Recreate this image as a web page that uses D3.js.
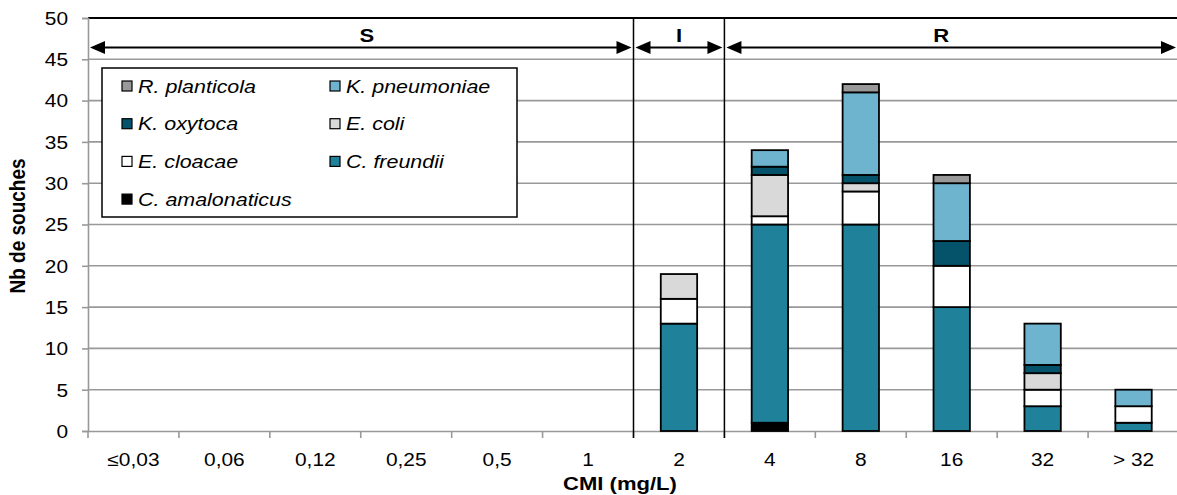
<!DOCTYPE html>
<html><head><meta charset="utf-8">
<script src="https://cdn.jsdelivr.net/npm/d3@7"></script>
<style>
html,body{margin:0;padding:0;background:#fff;}
svg{display:block;font-family:"Liberation Sans",Arial,Helvetica,sans-serif;}
</style></head>
<body>
<svg id="chart" width="1177" height="495"></svg>
<script>
const categories = ["≤0,03","0,06","0,12","0,25","0,5","1","2","4","8","16","32","> 32"];
const species = ["C. amalonaticus","C. freundii","E. cloacae","E. coli","K. oxytoca","K. pneumoniae","R. planticola"];
const amalonaticus = [0,0,0,0,0,0,0,1,0,0,0,0];
const freundii     = [0,0,0,0,0,0,13,24,25,15,3,1];
const cloacae      = [0,0,0,0,0,0,3,1,4,5,2,2];
const coli         = [0,0,0,0,0,0,3,5,1,0,2,0];
const oxytoca      = [0,0,0,0,0,0,0,1,1,3,1,0];
const pneumoniae   = [0,0,0,0,0,0,0,2,10,7,5,2];
const planticola   = [0,0,0,0,0,0,0,0,1,1,0,0];
const seriesValues = [amalonaticus,freundii,cloacae,coli,oxytoca,pneumoniae,planticola];
const colors = ["#000000","#1f819a","#ffffff","#d9d9d9","#04536a","#6eb4cf","#999999"];
const yTicks = [0,5,10,15,20,25,30,35,40,45,50];
const zones = [{label:"S",from:0,to:6},{label:"I",from:6,to:7},{label:"R",from:7,to:12}];
const legendOrder = ["R. planticola","K. pneumoniae","K. oxytoca","E. coli","E. cloacae","C. freundii","C. amalonaticus"];

const SX = 1.16; // horizontal stretch of the reference's text
const svg = d3.select("#chart");
const L=88, R=1179, T=18, B=431;
const x = d3.scaleBand().domain(categories).range([L,R]).paddingInner(0.6).paddingOuter(0.3);
const xOuter = d3.scaleBand().domain(categories).range([L,R]);
const y = d3.scaleLinear().domain([0,50]).range([B,T]);

function stext(g, px, py, str, size, opts={}){
  const t = g.append("text").attr("transform",`translate(${px},${py}) scale(${SX},1)`)
    .attr("font-size",size).attr("text-anchor",opts.anchor||"start").text(str);
  if(opts.bold) t.attr("font-weight","bold");
  if(opts.italic) t.attr("font-style","italic");
  return t;
}

// gridlines
svg.append("g").selectAll("line").data(yTicks.filter(d=>d>0 && d<50)).join("line")
  .attr("x1",L).attr("x2",1177).attr("y1",d=>y(d)).attr("y2",d=>y(d))
  .attr("stroke","#999").attr("stroke-width",1.6);
// top border
svg.append("line").attr("x1",L).attr("x2",1177).attr("y1",y(50)).attr("y2",y(50))
  .attr("stroke","#000").attr("stroke-width",1.8);

// y axis
const yAxis = svg.append("g").attr("transform",`translate(${L},0)`)
  .call(d3.axisLeft(y).tickValues(yTicks).tickSize(6).tickPadding(10));
yAxis.select(".domain").attr("stroke","#999").attr("stroke-width",1.6);
yAxis.selectAll(".tick line").attr("stroke","#999").attr("stroke-width",1.6);
yAxis.selectAll(".tick text").attr("font-size",18).attr("fill","#000")
  .attr("font-family","'Liberation Sans',Arial,sans-serif")
  .attr("x",-20/SX).attr("dy","0.35em").attr("transform",`scale(${SX},1)`);

// x axis
const xAxis = svg.append("g").attr("transform",`translate(0,${B})`)
  .call(d3.axisBottom(xOuter).tickSize(0).tickPadding(0));
xAxis.select(".domain").attr("stroke","#999").attr("stroke-width",1.6);
xAxis.selectAll(".tick text").attr("font-size",18).attr("fill","#000")
  .attr("font-family","'Liberation Sans',Arial,sans-serif")
  .attr("y",35).attr("dy",0).attr("transform",`scale(${SX},1)`);
svg.append("g").selectAll("line").data(d3.range(categories.length+1)).join("line")
  .attr("x1",i=>L+i*xOuter.step()).attr("x2",i=>L+i*xOuter.step())
  .attr("y1",B).attr("y2",B+7).attr("stroke","#999").attr("stroke-width",1.6);

// stacked bars
const table = categories.map((c,i)=>{const o={cat:c}; species.forEach((s,j)=>o[s]=seriesValues[j][i]); return o;});
const stack = d3.stack().keys(species)(table);
stack.forEach((layer,j)=>{
  svg.append("g").selectAll("rect").data(layer.filter(d=>d[1]-d[0]>0)).join("rect")
    .attr("x",d=>x(d.data.cat)).attr("width",x.bandwidth())
    .attr("y",d=>y(d[1])).attr("height",d=>y(d[0])-y(d[1]))
    .attr("fill",colors[j]).attr("stroke","#000").attr("stroke-width",1.8);
});

// zone dividers
svg.append("g").selectAll("line").data([6,7]).join("line")
  .attr("x1",i=>L+i*xOuter.step()).attr("x2",i=>L+i*xOuter.step())
  .attr("y1",T).attr("y2",B+7).attr("stroke","#000").attr("stroke-width",1.5);

// arrows
const ay = 47.5;
const labelShift = [6,0,-10];
function head(g,xTip,dir){
  g.append("path").attr("d",`M${xTip},${ay} L${xTip-dir*15},${ay-6.5} L${xTip-dir*15},${ay+6.5} Z`).attr("fill","#000");
}
zones.forEach((z,k)=>{
  const x0 = L+z.from*xOuter.step()+2, x1 = Math.min(L+z.to*xOuter.step()-2,1176);
  const g = svg.append("g");
  g.append("line").attr("x1",x0+5).attr("x2",x1-5).attr("y1",ay).attr("y2",ay).attr("stroke","#000").attr("stroke-width",1.8);
  head(g,x0,-1); head(g,x1,1);
  stext(g,(x0+x1)/2+labelShift[k],41.5,z.label,19,{bold:true,anchor:"middle"});
});

// legend
const lg = svg.append("g");
lg.append("rect").attr("x",102).attr("y",68).attr("width",415).attr("height",149)
  .attr("fill","#fff").attr("stroke","#000").attr("stroke-width",1.5);
legendOrder.forEach((s,i)=>{
  const col=i%2, row=Math.floor(i/2);
  const lx = 122 + col*208, ly = 86 + row*37.7;
  lg.append("rect").attr("x",lx).attr("y",ly-5).attr("width",10).attr("height",10)
    .attr("fill",colors[species.indexOf(s)]).attr("stroke","#000").attr("stroke-width",1.2);
  stext(lg,lx+16,ly+6.5,s,18.5,{italic:true});
});

// axis titles
svg.append("text").attr("transform",`translate(25,226) rotate(-90) scale(1,${SX})`).attr("text-anchor","middle")
  .attr("font-weight","bold").attr("font-size",19).text("Nb de souches");
stext(svg,620,490,"CMI (mg/L)",19,{bold:true,anchor:"middle"});
</script>
</body></html>
